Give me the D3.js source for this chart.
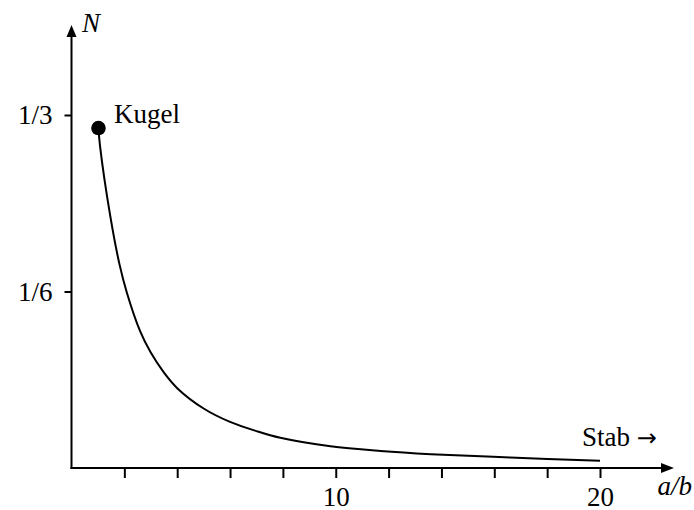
<!DOCTYPE html>
<html>
<head>
<meta charset="utf-8">
<script src="https://cdn.jsdelivr.net/npm/d3@7"></script>
<style>
  body { margin: 0; background: #fff; }
  text { font-family: "Liberation Serif", "Times New Roman", serif; fill: #000; }
</style>
</head>
<body>
<svg></svg>
<script>
// a/b ratio and demagnetisation factor N
const ratio = [1.02, 1.08, 1.46, 1.81, 2.09, 2.6, 3.0, 3.5, 4.0, 5.0, 6.0, 7.0, 7.9, 9.8, 11.7, 13.6, 16.6, 20]
const nVals = [0.321, 0.304, 0.239, 0.193, 0.166, 0.129, 0.109, 0.090, 0.0754, 0.0562, 0.0435, 0.0348, 0.0285, 0.0205, 0.0161, 0.0131, 0.0099, 0.0069]
const xTicks = [2, 4, 6, 8, 10, 12, 14, 16, 18, 20]
const xTickLabels = {10: '10', 20: '20'}
const yTicks = [1/6, 1/3]
const yTickLabels = ['1/6', '1/3']
const sphere = {ratio: 1.02, n: 0.321, label: 'Kugel'}

const w = 694
const h = 510
const fs = 27
const svg = d3.select('svg').attr('width', w).attr('height', h)

const x = d3.scaleLinear().domain([0, 20]).range([71.5, 600])
const y = d3.scaleLinear().domain([0, 1/3]).range([468, 115])

// axis lines with arrow heads
svg.append('line')
  .attr('x1', x(0)).attr('x2', x(0))
  .attr('y1', y(0) + 1).attr('y2', 34)
  .attr('stroke', '#000').attr('stroke-width', 2)
svg.append('path')
  .attr('d', `M${x(0)},25 L${x(0) - 5},37 L${x(0) + 5},37 Z`)
  .attr('fill', '#000')

svg.append('line')
  .attr('x1', x(0) - 1).attr('x2', 664)
  .attr('y1', y(0)).attr('y2', y(0))
  .attr('stroke', '#000').attr('stroke-width', 2)
svg.append('path')
  .attr('d', `M674,${y(0)} L661,${y(0) - 5} L661,${y(0) + 5} Z`)
  .attr('fill', '#000')

const xAxis = d3.axisBottom(x)
  .tickValues(xTicks)
  .tickSize(10)
  .tickPadding(9)
  .tickFormat(d => xTickLabels[d] || '')

const xAxisG = svg.append('g')
  .attr('transform', `translate(0, ${y(0)})`)
  .call(xAxis)
xAxisG.select('.domain').remove()
xAxisG.selectAll('line').attr('stroke-width', 2)
xAxisG.selectAll('text').attr('font-size', fs).attr('font-family', null)

const yAxis = d3.axisLeft(y)
  .tickValues(yTicks)
  .tickSize(7)
  .tickPadding(12)
  .tickFormat((d, i) => yTickLabels[i])

const yAxisG = svg.append('g')
  .attr('transform', `translate(${x(0)}, 0)`)
  .call(yAxis)
yAxisG.select('.domain').remove()
yAxisG.selectAll('line').attr('stroke-width', 2)
yAxisG.selectAll('text').attr('font-size', fs).attr('font-family', null)

// curve
const line = d3.line()
  .x((d, i) => x(ratio[i]))
  .y(d => y(d))
  .curve(d3.curveCatmullRom.alpha(0.5))

svg.append('path')
  .datum(nVals)
  .attr('d', line)
  .attr('fill', 'none')
  .attr('stroke', '#000')
  .attr('stroke-width', 2)

svg.append('circle')
  .attr('cx', x(sphere.ratio))
  .attr('cy', y(sphere.n))
  .attr('r', 7.3)
  .attr('fill', '#000')

// labels
svg.append('text')
  .attr('x', 114).attr('y', 123)
  .attr('font-size', fs)
  .text(sphere.label)

svg.append('text')
  .attr('x', 82).attr('y', 32)
  .attr('font-size', fs)
  .attr('font-style', 'italic')
  .text('N')

svg.append('text')
  .attr('x', 692).attr('y', 495)
  .attr('font-size', fs)
  .attr('font-style', 'italic')
  .attr('text-anchor', 'end')
  .text('a/b')

const stab = svg.append('text')
  .attr('x', 582).attr('y', 446)
  .attr('font-size', fs)
stab.append('tspan').text('Stab ')
stab.append('tspan').attr('font-family', 'DejaVu Sans').attr('font-size', 24).text('→')
</script>
</body>
</html>
